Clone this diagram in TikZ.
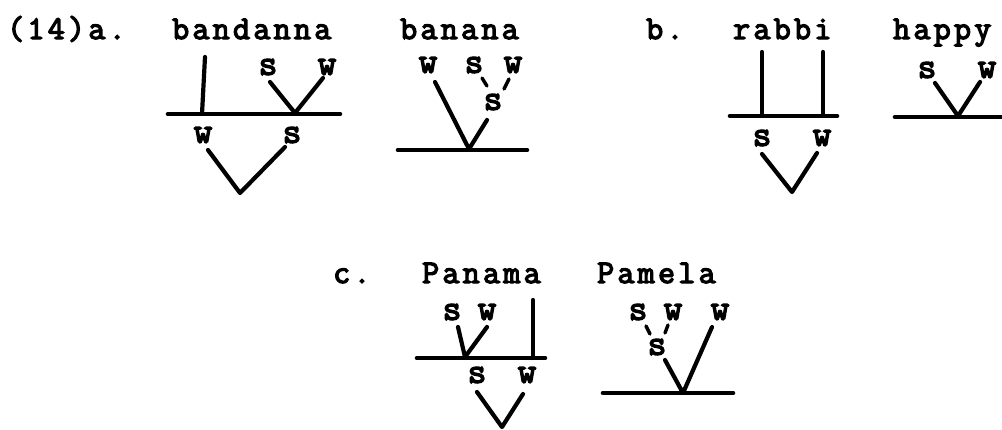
\documentclass[tikz,border=0pt]{standalone}
\usepackage{fontspec}
\newfontfamily\tw[LetterSpace=10,FakeBold=4]{Latin Modern Mono}
\newfontfamily\twl[FakeBold=4]{Latin Modern Mono}
\tikzset{
  word/.style={anchor=base west,inner sep=0pt,font=\tw\fontsize{33}{33}\selectfont},
  lab/.style={inner sep=0pt,font=\twl\fontsize{36}{36}\selectfont},
  br/.style={line width=4.2pt,line cap=round,line join=round},
  bar/.style={line width=4.6pt,line cap=round},
  dsh/.style={line width=3.4pt,line cap=round}
}
\begin{document}
\begin{tikzpicture}[x=1pt,y=-1pt]
\useasboundingbox (0,0) rectangle (1002,429);
% ---------- words ----------
\node[word] (ex) at (7,39) {(14)a.};
\node[word] (wband) at (172,39) {bandanna};
\node[word] (wban) at (400,39) {banana};
\node[word] (exb) at (646,39) {b.};
\node[word] (wrab) at (733,39) {rabbi};
\node[word] (whap) at (893,39) {happy};
\node[word] (exc) at (333,283) {c.};
\node[word] (wpan) at (422,283) {Panama};
\node[word] (wpam) at (597,283) {Pamela};
% ---------- bandanna ----------
\node[lab] (a1s) at (268,67) {s};
\node[lab] (a1w) at (327,67) {w};
\node[lab] (a1W) at (203,135) {w};
\node[lab] (a1S) at (292,135) {s};
\coordinate (a1vt) at (205,57);
\coordinate (a1vb) at (202,114);
\coordinate (a1hl) at (168,114);
\coordinate (a1hr) at (340,114);
\coordinate (a1st) at (270,82);
\coordinate (a1wt) at (323,78);
\coordinate (a1j) at (295,113);
\coordinate (a1va) at (208,150);
\coordinate (a1vm) at (240,193);
\coordinate (a1vc) at (285,147);
\draw[bar] (a1hl) -- (a1hr);
\draw[br] (a1vt) -- (a1vb);
\draw[br] (a1st) -- (a1j) -- (a1wt);
\draw[br] (a1va) -- (a1vm) -- (a1vc);
% ---------- banana ----------
\node[lab] (a2w1) at (428,65) {w};
\node[lab] (a2s) at (474,65) {s};
\node[lab] (a2w2) at (513,65) {w};
\node[lab] (a2ss) at (493,102) {s};
\coordinate (a2wt) at (435,82);
\coordinate (a2j) at (469,149);
\coordinate (a2st) at (487,120);
\coordinate (a2d1a) at (482,78);
\coordinate (a2d1b) at (487,86);
\coordinate (a2d2a) at (509,79);
\coordinate (a2d2b) at (504,89);
\coordinate (a2hl) at (398,150);
\coordinate (a2hr) at (527,150);
\draw[bar] (a2hl) -- (a2hr);
\draw[br] (a2wt) -- (a2j) -- (a2st);
\draw[dsh] (a2d1a) -- (a2d1b);
\draw[dsh] (a2d2a) -- (a2d2b);
% ---------- rabbi ----------
\node[lab] (b1s) at (762,138) {s};
\node[lab] (b1w) at (822,138) {w};
\coordinate (b1v1t) at (762,52);
\coordinate (b1v1b) at (762,116);
\coordinate (b1v2t) at (823,52);
\coordinate (b1v2b) at (823,116);
\coordinate (b1hl) at (730,116);
\coordinate (b1hr) at (837,116);
\coordinate (b1va) at (762,154);
\coordinate (b1vm) at (792,192);
\coordinate (b1vc) at (817,153);
\draw[bar] (b1hl) -- (b1hr);
\draw[br] (b1v1t) -- (b1v1b);
\draw[br] (b1v2t) -- (b1v2b);
\draw[br] (b1va) -- (b1vm) -- (b1vc);
% ---------- happy ----------
\node[lab] (b2s) at (927,70) {s};
\node[lab] (b2w) at (987,70) {w};
\coordinate (b2a) at (935,83);
\coordinate (b2j) at (958,116);
\coordinate (b2c) at (980,82);
\coordinate (b2hl) at (895,117);
\coordinate (b2hr) at (1002,117);
\draw[bar] (b2hl) -- (b2hr);
\draw[br] (b2a) -- (b2j) -- (b2c);
% ---------- Panama ----------
\node[lab] (c1s) at (452,312) {s};
\node[lab] (c1w) at (487,312) {w};
\node[lab] (c1S) at (477,375) {s};
\node[lab] (c1W) at (527,375) {w};
\coordinate (c1a) at (458,327);
\coordinate (c1j) at (465,357);
\coordinate (c1c) at (487,327);
\coordinate (c1vt) at (533,300);
\coordinate (c1vb) at (533,358);
\coordinate (c1hl) at (417,358);
\coordinate (c1hr) at (545,358);
\coordinate (c1va) at (477,392);
\coordinate (c1vm) at (502,427);
\coordinate (c1vc) at (523,394);
\draw[bar] (c1hl) -- (c1hr);
\draw[br] (c1a) -- (c1j) -- (c1c);
\draw[br] (c1vt) -- (c1vb);
\draw[br] (c1va) -- (c1vm) -- (c1vc);
% ---------- Pamela ----------
\node[lab] (c2s) at (638,312) {s};
\node[lab] (c2w1) at (673,312) {w};
\node[lab] (c2w2) at (720,312) {w};
\node[lab] (c2ss) at (657,347) {s};
\coordinate (c2d1a) at (646,326);
\coordinate (c2d1b) at (650,334);
\coordinate (c2d2a) at (668,325);
\coordinate (c2d2b) at (665,333);
\coordinate (c2st) at (665,360);
\coordinate (c2j) at (683,393);
\coordinate (c2wt) at (712,327);
\coordinate (c2hl) at (603,393);
\coordinate (c2hr) at (733,393);
\draw[bar] (c2hl) -- (c2hr);
\draw[br] (c2st) -- (c2j) -- (c2wt);
\draw[dsh] (c2d1a) -- (c2d1b);
\draw[dsh] (c2d2a) -- (c2d2b);
\end{tikzpicture}
\end{document}
